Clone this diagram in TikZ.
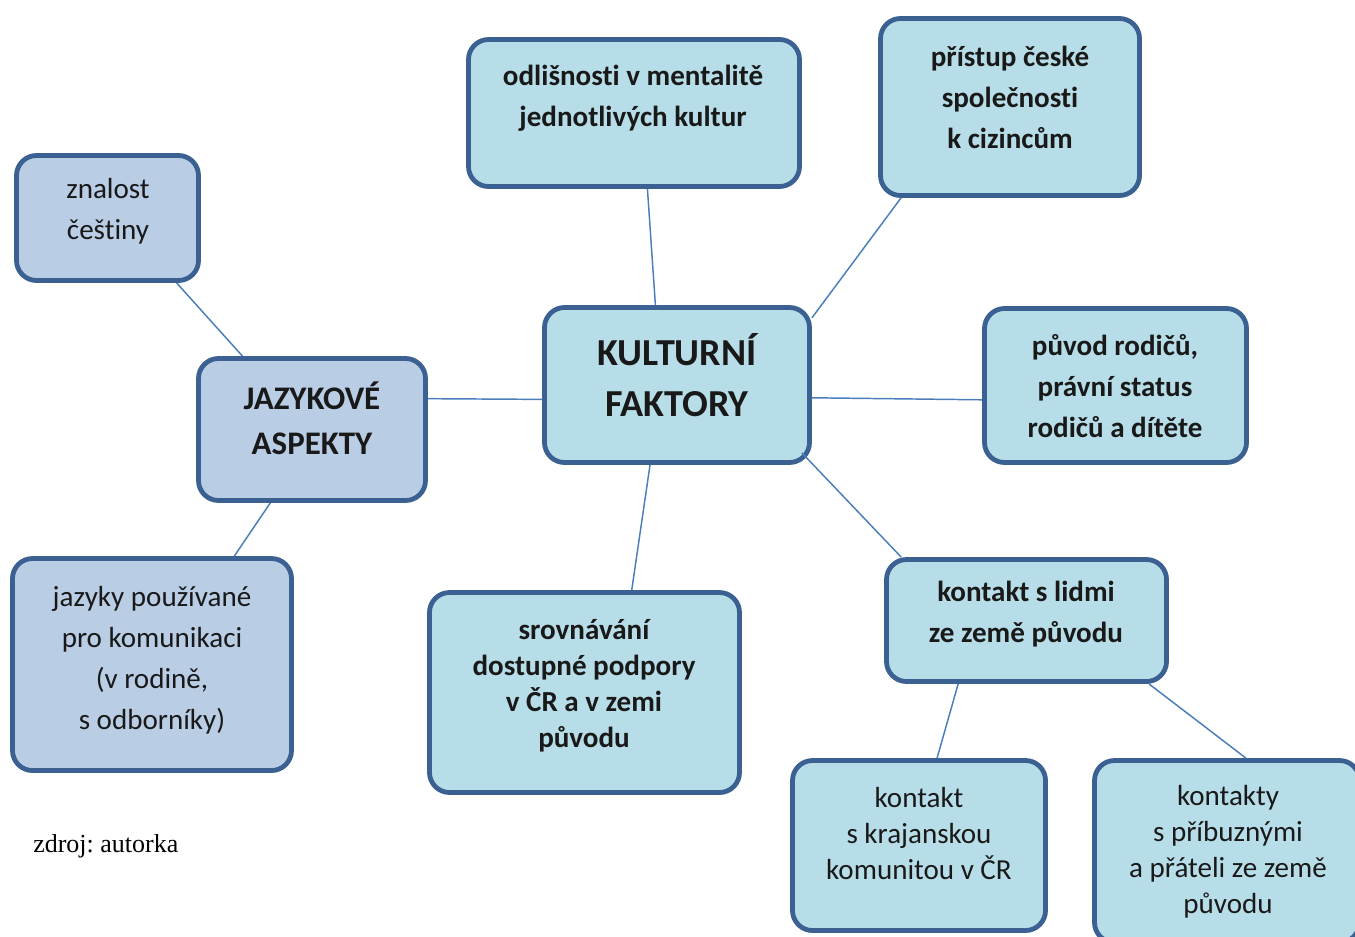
\documentclass[tikz,border=0pt]{standalone}
\usepackage{fontspec}
\setmainfont{Carlito}[Ligatures=NoCommon]
\newfontfamily\timesfont{Liberation Serif}
\usetikzlibrary{calc}
\frenchspacing
\definecolor{langfill}{HTML}{B9CDE5}
\definecolor{cultfill}{HTML}{B7DEE8}
\definecolor{boxline}{HTML}{3B6193}
\definecolor{conn}{HTML}{4A7EBB}
\tikzset{
  box/.style={draw=boxline, line width=3.6pt, rounded corners=15pt, inner sep=0pt},
  lang/.style={box, fill=langfill},
  cult/.style={box, fill=cultfill},
  txt/.style={align=center, inner sep=0pt, text=black!90},
  nrm/.style={txt, font=\fontsize{21.8}{30.75}\selectfont},
  nrmb/.style={txt, font=\fontsize{21.8}{30.75}\selectfont\bfseries},
  sml/.style={txt, font=\fontsize{21.8}{27}\selectfont},
  smlb/.style={txt, font=\fontsize{21.8}{27}\selectfont\bfseries},
  big/.style={txt, font=\fontsize{24.7}{33.75}\selectfont\bfseries},
  huge/.style={txt, font=\fontsize{28.6}{38.25}\selectfont\bfseries},
  link/.style={draw=conn, line width=1.1pt},
}
\begin{document}
\begin{tikzpicture}[x=0.75pt,y=-0.75pt]
\useasboundingbox (0,0) rectangle (1355,936);
% boxes
\node[lang, minimum width=182*0.75pt, minimum height=125*0.75pt] (zn) at (107.5,218) {};
\node[lang, minimum width=227*0.75pt, minimum height=142*0.75pt] (ja) at (312,429.5) {};
\node[lang, minimum width=279*0.75pt, minimum height=212*0.75pt] (jz) at (152,664.5) {};
\node[cult, minimum width=331*0.75pt, minimum height=147*0.75pt] (od) at (634,113) {};
\node[cult, minimum width=259*0.75pt, minimum height=177*0.75pt] (pr) at (1010,107) {};
\node[cult, minimum width=265*0.75pt, minimum height=155*0.75pt] (ku) at (677,385) {};
\node[cult, minimum width=262*0.75pt, minimum height=154*0.75pt] (pu) at (1115.5,385.5) {};
\node[cult, minimum width=310*0.75pt, minimum height=200*0.75pt] (sr) at (584.5,692.5) {};
\node[cult, minimum width=280*0.75pt, minimum height=122*0.75pt] (ks) at (1026.5,620.5) {};
\node[cult, minimum width=253*0.75pt, minimum height=170*0.75pt] (kr) at (919,845.5) {};
\node[cult, minimum width=265*0.75pt, minimum height=182*0.75pt] (ko) at (1227,851.5) {};
% texts
\node[nrm] (tzn) at (108,211.5) {znalost\\češtiny};
\node[big] (tja) at (312,418) {JAZYKOVÉ\\ASPEKTY};
\node[nrm] (tjz) at (152,660.5) {jazyky používané\\pro komunikaci\\(v rodině,\\s odborníky)};
\node[nrmb] (tod) at (633,98.5) {odlišnosti v mentalitě\\jednotlivých kultur};
\node[nrmb] (tpr) at (1010,97) {přístup české\\společnosti\\k cizincům};
\node[huge] (tku) at (677,375.5) {KULTURNÍ\\FAKTORY};
\node[nrmb] (tpu) at (1115,386.5) {původ rodičů,\\právní status\\rodičů a dítěte};
\node[smlb] (tsr) at (584,686) {srovnávání\\dostupné podpory\\v ČR a v zemi\\původu};
\node[nrmb] (tks) at (1026,614.5) {kontakt s lidmi\\ze země původu};
\node[sml] (tkr) at (919,833) {kontakt\\s krajanskou\\komunitou v ČR};
\node[sml] (tko) at (1228,852) {kontakty\\s příbuznými\\a přáteli ze země\\původu};
\node[anchor=west, inner sep=0pt, font=\timesfont\fontsize{19.5}{22}\selectfont] (src) at (33,846) {zdroj: autorka};
% connectors
\draw[link] ($(zn.south west)!0.87!(zn.south east)$) -- ($(ja.north west)!0.20!(ja.north east)$);
\draw[link] ($(ja.south west)!0.32!(ja.south east)$) -- ($(jz.north west)!0.79!(jz.north east)$);
\draw[link] ($(ja.north east)!0.29!(ja.south east)$) -- ($(ku.north west)!0.59!(ku.south west)$);
\draw[link] ($(od.south west)!0.54!(od.south east)$) -- ($(ku.north west)!0.42!(ku.north east)$);
\draw[link] ($(pr.south west)!0.087!(pr.south east)$) -- ($(ku.north east)!0.08!(ku.south east)$);
\draw[link] ($(ku.north east)!0.58!(ku.south east)$) -- ($(pu.north west)!0.59!(pu.south west)$);
\draw[link] ($(ku.south west)!0.40!(ku.south east)$) -- ($(sr.north west)!0.65!(sr.north east)$);
\draw[link] ($(ku.south east)+(-10,-12)$) -- ($(ks.north west)!0.06!(ks.north east)$);
\draw[link] ($(ks.south west)!0.26!(ks.south east)$) -- ($(kr.north west)!0.57!(kr.north east)$);
\draw[link] ($(ks.south west)!0.93!(ks.south east)$) -- ($(ko.north west)!0.57!(ko.north east)$);
\end{tikzpicture}
\end{document}
